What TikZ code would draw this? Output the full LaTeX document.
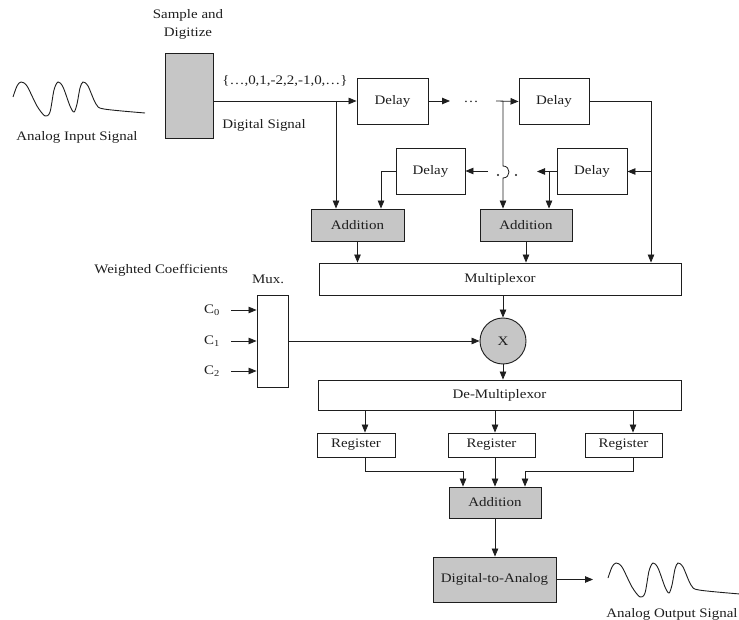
\documentclass[tikz,border=0pt]{standalone}
\usepackage{fontspec}
\setmainfont[FakeStretch=1.15]{Liberation Serif}
\usepackage{tikz}
\usetikzlibrary{arrows.meta, positioning, calc}
\definecolor{inkc}{RGB}{30,30,30}
\definecolor{shadec}{RGB}{198,198,198}
\newcommand{\figfont}{\fontsize{13}{15}\selectfont}
\tikzset{
  box/.style={
    rectangle, draw=inkc, line width=0.9pt, inner sep=0pt,
    font=\figfont, text=inkc
  },
  grayblk/.style={box, fill=shadec},
  dly/.style={box, minimum width=70pt, minimum height=46pt},
  reg/.style={box, minimum height=24pt},
  arr/.style={-{Triangle[length=8pt, width=6.5pt]}, line width=0.8pt, draw=inkc},
  lbl/.style={font=\figfont, text=inkc, inner sep=1pt, align=center},
  dotc/.style={circle, fill=inkc, inner sep=0pt, minimum size=2.2pt},
}
\tikzset{
  % a hand drawn analogue trace, three swings and a tail
  sigwave/.pic={
    \draw[pic actions] plot[smooth, tension=0.5] coordinates {
      (0,0) (4,-11) (8,-15) (14,-11) (24,9) (32,19) (37,15) (41,-7) (45,-15)
      (50,-10) (57,9) (61,15) (64,7) (67,-9) (70,-15) (75,-11) (83,7) (91,12) (132,16)};
  },
}

\begin{document}
\begin{tikzpicture}[x=1pt, y=-1pt]
  \useasboundingbox (0,0) rectangle (739,620);

  % input side
  \pic[draw=inkc, line width=0.9pt] (inw) at (13,97) {sigwave};
  \node[lbl] (inl) at (77,137) {Analog Input Signal};
  \node[grayblk, minimum width=48pt, minimum height=85pt] (sd) at (189,95.5) {};
  \node[lbl, font=\fontsize{13}{18}\selectfont] (sdl) at (188,24) {Sample and\\Digitize};
  \node[lbl] (seq) at (285,81) {\{\dots,0,1,-2,2,-1,0,\dots\}};
  \node[lbl] (dsig) at (264,125) {Digital Signal};

  % delay line
  \node[dly, minimum width=71pt] (d1) at (392.5,101) {Delay};
  \node[dly] (d2) at (554,101.5) {Delay};
  \node[dly, minimum width=69pt] (d3) at (430.5,171) {Delay};
  \node[dly] (d4) at (592,171.5) {Delay};
  \node[lbl, inner sep=0pt] (dts) at (471,102) {\dots};
  \node[dotc] (dtl1) at (498,175) {};
  \node[dotc] (dtl2) at (516,175) {};

  \node[grayblk, minimum width=93pt, minimum height=32pt] (add1) at (357.5,225) {Addition};
  \node[grayblk, minimum width=92pt, minimum height=32pt] (add2) at (526,225) {Addition};
  \node[box, minimum width=362pt, minimum height=32pt] (mplx) at (500,279) {Multiplexor};

  % coefficients
  \node[lbl, anchor=east] (wc) at (229,270) {Weighted Coefficients};
  \node[lbl] (muxl) at (268,279) {Mux.};
  \node[box, minimum width=31pt, minimum height=92pt] (mux) at (272.5,341) {};
  \node[grayblk, circle, minimum size=46pt] (mult) at (503,341) {X};
  \foreach \i/\y in {0/310, 1/341, 2/371} {
    \node[lbl] (c\i) at (212,\y) {C\textsubscript{\i}};
    \draw[arr] ([xshift=10pt]c\i.east) -- (c\i.east -| mux.west);
  }

  \node[box, minimum width=363pt, minimum height=30pt] (dmx) at (499.5,395) {De-Multiplexor};
  \node[reg, minimum width=78pt] (r1) at (356,445) {Register};
  \node[reg, minimum width=87pt] (r2) at (491.5,445) {Register};
  \node[reg, minimum width=77pt] (r3) at (623.5,445) {Register};
  \node[grayblk, minimum width=92pt, minimum height=31pt] (add3) at (495,502.5) {Addition};
  \node[grayblk, minimum width=123pt, minimum height=45pt] (dac) at (494.5,579.5) {Digital-to-Analog};
  \pic[draw=inkc, line width=0.9pt] (outw) at (608,578) {sigwave};
  \node[lbl] (outl) at (672,614) {Analog Output Signal};

  % free ends and junctions
  \coordinate (j1) at (336,101);
  \coordinate (g1a) at (450,101);
  \coordinate (g1b) at (496,101);
  \coordinate (j2) at (503,101);
  \coordinate (hop) at (503,172);
  \coordinate (rt) at (651,101.5);
  \coordinate (g2a) at (488,171);
  \coordinate (g2b) at (537,171.5);
  \coordinate (j4) at (549,171.5);
  \coordinate (outp) at (593,579.5);

  % connectors
  \draw[arr] (sd.east |- d1.west) -- (d1.west);
  \draw[arr] (j1) -- (j1 |- add1.north);
  \draw[arr] (d1.east) -- (g1a);
  \draw[arr] (g1b) -- (d2.west);
  \draw[arr] (j2) -- ($(hop)+(0,-6)$)
    .. controls ($(hop)+(8,-6)$) and ($(hop)+(8,6)$) .. ($(hop)+(0,6)$)
    -- (j2 |- add2.north);
  \draw[arr] (d2.east) -| (rt |- mplx.north);
  \draw[arr] (rt |- d4.east) -- (d4.east);
  \draw[arr] (d4.west) -- (g2b);
  \draw[arr] (j4) -- (j4 |- add2.north);
  \draw[arr] (g2a) -- (d3.east);
  \draw[arr] (d3.west) -| ($(add1.north)+(23.5,0)$);
  \draw[arr] (add1.south) -- (add1.south |- mplx.north);
  \draw[arr] (add2.south) -- (add2.south |- mplx.north);
  \draw[arr] (mult.north |- mplx.south) -- (mult.north);
  \draw[arr] (mux.east) -- (mult.west);
  \draw[arr] (mult.south) -- (mult.south |- dmx.north);

  \coordinate (r1in) at ($(r1.north)+(9,0)$);
  \coordinate (r2in) at ($(r2.north)+(3.5,0)$);
  \coordinate (r3in) at ($(r3.north)+(9.5,0)$);
  \draw[arr] (r1in |- dmx.south) -- (r1in);
  \draw[arr] (r2in |- dmx.south) -- (r2in);
  \draw[arr] (r3in |- dmx.south) -- (r3in);
  \draw[arr] (r1in |- r1.south) |- ($(add3.north)+(-32,-15)$) -- ($(add3.north)+(-32,0)$);
  \draw[arr] (r2.south -| add3.north) -- (add3.north);
  \draw[arr] (r3in |- r3.south) |- ($(add3.north)+(30,-15)$) -- ($(add3.north)+(30,0)$);
  \draw[arr] (add3.south) -- (add3.south |- dac.north);
  \draw[arr] (dac.east) -- (outp);
\end{tikzpicture}
\end{document}
